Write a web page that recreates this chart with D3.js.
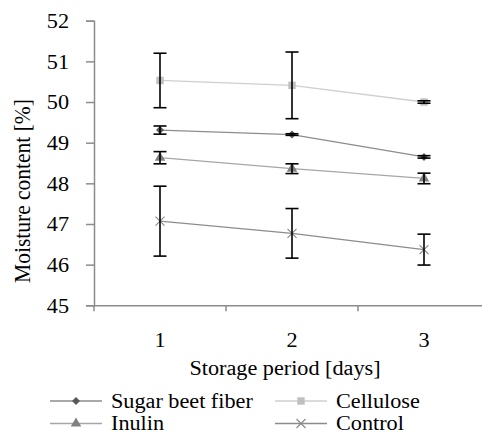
<!DOCTYPE html>
<html>
<head>
<meta charset="utf-8">
<script src="https://cdn.jsdelivr.net/npm/d3@7"></script>
<style>
  body { margin: 0; background: #fff; }
  svg { display: block; }
</style>
</head>
<body>
<div id="chart"></div>
<script>
// data
const days = ['1', '2', '3'];
const sugarBeet = [49.31, 49.20, 48.65];
const sugarBeetErr = [0.10, 0.02, 0.03];
const cellulose = [50.53, 50.41, 50.00];
const celluloseErr = [0.67, 0.82, 0.03];
const inulin = [48.63, 48.36, 48.12];
const inulinErr = [0.15, 0.12, 0.13];
const control = [47.07, 46.77, 46.37];
const controlErr = [0.86, 0.61, 0.38];
const yTicks = [45, 46, 47, 48, 49, 50, 51, 52];

const series = [
  {name: 'Sugar beet fiber', values: sugarBeet, err: sugarBeetErr, symbol: 'diamond', size: 32, fill: '#595959', line: '#8c8c8c'},
  {name: 'Cellulose', values: cellulose, err: celluloseErr, symbol: d3.symbolSquare, size: 55, fill: '#bfbfbf', line: '#cfcfcf'},
  {name: 'Inulin', values: inulin, err: inulinErr, symbol: d3.symbolTriangle, size: 48, fill: '#808080', line: '#a6a6a6'},
  {name: 'Control', values: control, err: controlErr, symbol: 'x', size: 0, fill: '#8c8c8c', line: '#8c8c8c'}
];

const width = 482;
const height = 432;
const font = "'Liberation Serif'";
const fs = 20;
const stretch = 1.11; // the figure's text is a bit wider than the font

const svg = d3.select('#chart').append('svg')
  .attr('width', width)
  .attr('height', height)
  .attr('fill', '#000');

// widen a horizontal text to the look of the figure
function widen(sel) {
  sel.each(function () {
    const len = this.getComputedTextLength();
    d3.select(this)
      .attr('textLength', len * stretch)
      .attr('lengthAdjust', 'spacingAndGlyphs');
  });
}

// scales
const x = d3.scaleBand()
  .domain(days)
  .range([94, 490]);
const y = d3.scaleLinear()
  .domain([45, 52])
  .range([305.3, 20.7]);

// y axis
const yAxis = svg.append('g')
  .attr('transform', 'translate(94,0)')
  .call(d3.axisLeft(y).tickValues(yTicks).tickSize(8).tickPadding(17).tickFormat(d3.format('d')));
yAxis.select('.domain').attr('stroke', '#8c8c8c').attr('stroke-width', 1.5);
yAxis.selectAll('.tick line').attr('stroke', '#8c8c8c').attr('stroke-width', 1.5);
yAxis.selectAll('.tick text')
  .attr('font-size', fs).style('font-family', font)
  .attr('fill', '#000').attr('dy', '0.34em')
  .call(widen);

// x axis
const xAxis = svg.append('g')
  .attr('transform', `translate(0,${y(45)})`)
  .call(d3.axisBottom(x).tickSize(0).tickPadding(28));
xAxis.select('.domain').attr('stroke', '#8c8c8c').attr('stroke-width', 1.5);
xAxis.selectAll('.tick text')
  .attr('font-size', fs).style('font-family', font).attr('fill', '#000')
  .call(widen);
// tick marks between categories
xAxis.selectAll('.sep')
  .data(days)
  .join('line')
    .attr('class', 'sep')
    .attr('x1', d => x(d))
    .attr('x2', d => x(d))
    .attr('y1', 0)
    .attr('y2', 6)
    .attr('stroke', '#8c8c8c')
    .attr('stroke-width', 1.5);

const cx = d => x(d) + x.bandwidth() / 2;

// axis titles
svg.append('text')
  .attr('x', 285)
  .attr('y', 375)
  .attr('text-anchor', 'middle')
  .attr('font-size', fs)
  .style('font-family', font)
  .text('Storage period [days]')
  .call(widen);
svg.append('text')
  .attr('transform', 'translate(30,191) rotate(-90) scale(1,1.1)')
  .attr('text-anchor', 'middle')
  .attr('font-size', 21.5)
  .style('font-family', font)
  .text('Moisture content [%]');

// lines
const line = d3.line()
  .x((d, i) => cx(days[i]))
  .y(d => y(d));

series.forEach(s => {
  svg.append('path')
    .datum(s.values)
    .attr('fill', 'none')
    .attr('stroke', s.line)
    .attr('stroke-width', 1.3)
    .attr('d', line);
});

// markers
function drawMarker(g, s, px, py) {
  if (s.symbol === 'x') {
    g.append('path')
      .attr('d', `M${px - 4.5},${py - 4.5}L${px + 4.5},${py + 4.5}M${px - 4.5},${py + 4.5}L${px + 4.5},${py - 4.5}`)
      .attr('stroke', s.fill)
      .attr('stroke-width', 1.2);
  } else if (s.symbol === 'diamond') {
    g.append('path')
      .attr('d', d3.symbol(d3.symbolSquare, s.size)())
      .attr('transform', `translate(${px},${py}) rotate(45)`)
      .attr('fill', s.fill);
  } else {
    g.append('path')
      .attr('d', d3.symbol(s.symbol, s.size)())
      .attr('transform', `translate(${px},${py})`)
      .attr('fill', s.fill);
  }
}

series.forEach(s => {
  const g = svg.append('g');
  s.values.forEach((v, i) => drawMarker(g, s, cx(days[i]), y(v)));
});

// error bars
const errG = svg.append('g').attr('stroke', '#000').attr('stroke-width', 1.6);
series.forEach(s => {
  s.values.forEach((v, i) => {
    const px = cx(days[i]);
    const top = y(v + s.err[i]);
    const bot = y(v - s.err[i]);
    errG.append('line').attr('x1', px).attr('x2', px).attr('y1', top).attr('y2', bot);
    errG.append('line').attr('x1', px - 6.5).attr('x2', px + 6.5).attr('y1', top).attr('y2', top);
    errG.append('line').attr('x1', px - 6.5).attr('x2', px + 6.5).attr('y1', bot).attr('y2', bot);
  });
});

// legend
const legendPos = [[50, 401], [275, 401], [50, 423.5], [275, 423.5]];
series.forEach((s, i) => {
  const [lx, ly] = legendPos[i];
  const g = svg.append('g');
  g.append('line')
    .attr('x1', lx).attr('x2', lx + 52)
    .attr('y1', ly).attr('y2', ly)
    .attr('stroke', s.line)
    .attr('stroke-width', 1.3);
  drawMarker(g, s, lx + 26, ly);
  g.append('text')
    .attr('x', lx + 61)
    .attr('y', ly + 6.7)
    .attr('font-size', fs)
    .style('font-family', font)
    .text(s.name)
    .call(widen);
});
</script>
</body>
</html>
